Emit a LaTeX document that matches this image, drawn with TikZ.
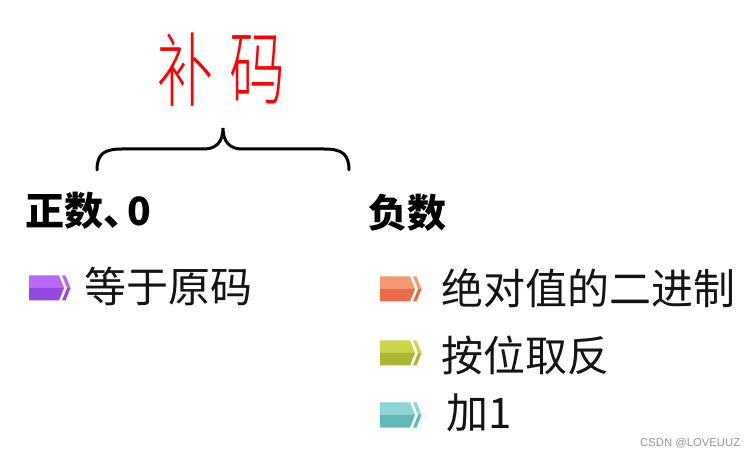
\documentclass[tikz,border=0pt]{standalone}
\usepackage{fontspec}
\setmainfont{Noto Sans CJK SC}
\newfontfamily\cjklight{Noto Sans CJK SC}[UprightFont={* Light}]
\newfontfamily\latinsans{Liberation Sans}
\definecolor{purpA}{RGB}{184,104,242}
\definecolor{purpB}{RGB}{148,74,226}
\definecolor{oranA}{RGB}{246,152,112}
\definecolor{oranB}{RGB}{234,106,74}
\definecolor{grnA}{RGB}{206,212,72}
\definecolor{grnB}{RGB}{172,182,52}
\definecolor{tealA}{RGB}{142,212,212}
\definecolor{tealB}{RGB}{98,186,184}
\definecolor{wmgray}{RGB}{150,150,150}
\definecolor{redtitle}{RGB}{255,0,0}
\tikzset{
  bodytext/.style={anchor=west, inner sep=0pt, font=\fontsize{42}{46}\selectfont, text=black!92},
  headtext/.style={anchor=west, inner sep=0pt, font=\fontsize{39}{43}\selectfont\bfseries, text=black},
  titlechar/.style={inner sep=0pt, font=\cjklight\fontsize{81}{88}\selectfont, text=redtitle, xscale=0.69},
}
% icon: #1 x, #2 y center, #3 light, #4 dark
\newcommand{\bulleticon}[4]{%
  \fill[#3] (#1,#2-12.5) -- (#1+30,#2-12.5) -- (#1+35,#2) -- (#1,#2) -- cycle;
  \fill[#4] (#1,#2) -- (#1+35,#2) -- (#1+30,#2+12.5) -- (#1,#2+12.5) -- cycle;
  \fill[#3] (#1+33,#2-12.5) -- (#1+36.5,#2-12.5) -- (#1+41.5,#2) -- (#1+38,#2) -- cycle;
  \fill[#4] (#1+38,#2) -- (#1+41.5,#2) -- (#1+36.5,#2+12.5) -- (#1+33,#2+12.5) -- cycle;
}
\begin{document}
\begin{tikzpicture}[x=1pt,y=-1pt]
\useasboundingbox[fill=white] (0,0) rectangle (756,457);
% title
\node[titlechar] (t1) at (185,70) {补};
\node[titlechar] (t2) at (257,70) {码};
% brace
\draw[line width=3pt, line cap=round] (97,170) .. controls (97,154) and (104,149) .. (122,149)
  -- (204,149) .. controls (216,149) and (223,142) .. (223,128)
  .. controls (223,142) and (230,149) .. (242,149)
  -- (324,149) .. controls (342,149) and (349,154) .. (349,170);
% headings
\node[headtext] (pos) at (25,211) {正数、\kern-15pt 0};
\node[headtext] (neg) at (368,213) {负数};
% items
\bulleticon{29}{288}{purpA}{purpB}
\node[bodytext] (i1) at (84,286) {等于原码};
\bulleticon{380}{289}{oranA}{oranB}
\node[bodytext] (i2) at (441,288) {绝对值的二进制};
\bulleticon{380}{353}{grnA}{grnB}
\node[bodytext] (i3) at (441,355) {按位取反};
\bulleticon{380}{415}{tealA}{tealB}
\node[bodytext] (i4) at (446,413) {加1};
% watermark
\node[anchor=west, inner sep=0pt, font=\latinsans\fontsize{11.3}{13}\selectfont, text=wmgray] (wm) at (640,443) {CSDN @LOVEUUZ};
\end{tikzpicture}
\end{document}
